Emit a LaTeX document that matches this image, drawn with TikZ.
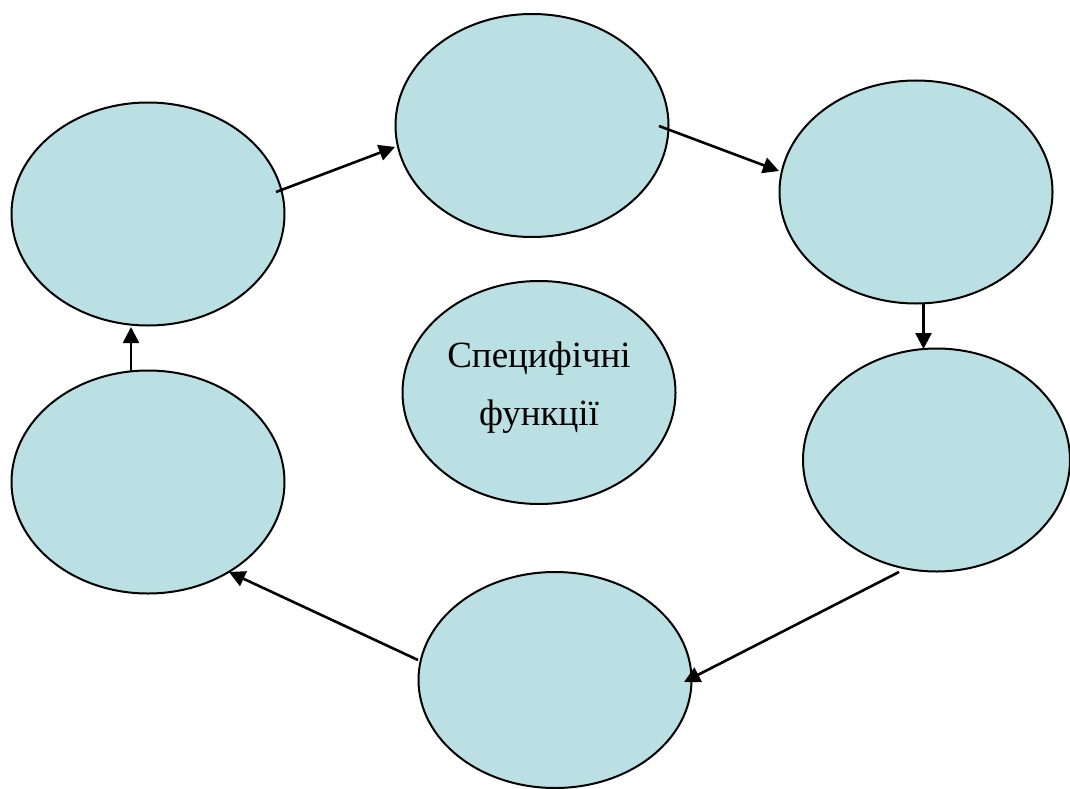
\documentclass[tikz,border=0pt]{standalone}
\usepackage{fontspec}
\setmainfont{Liberation Serif}
\usetikzlibrary{arrows.meta,shapes.geometric}
\definecolor{bubblefill}{HTML}{BBE0E3}
\tikzset{
  bubble/.style={ellipse, draw=black, line width=2pt, fill=bubblefill,
    minimum width=273pt, minimum height=223pt, inner sep=0pt},
  link/.style={line width=2.6pt, -{Triangle[length=16pt,width=16pt]}},
}
\begin{document}
\begin{tikzpicture}[x=1pt,y=-1pt]
\useasboundingbox (0,0) rectangle (1070,789);
\node[bubble] (e1) at (148,214) {};
\node[bubble] (e2) at (532,125.5) {};
\node[bubble] (e3) at (916,192) {};
\node[bubble, minimum width=267pt] (e4) at (936.5,460) {};
\node[bubble, minimum height=216pt] (e5) at (555,680) {};
\node[bubble] (e6) at (148,482) {};
\node[bubble] (e7) at (539,392.5) {};
\node[font=\fontsize{37pt}{58pt}\selectfont, align=center, inner sep=0pt] (t7) at (539,388) {Специфічні\\функції};
% arrow end points
\coordinate (a1s) at (276,192);
\coordinate (a1e) at (395,147);
\coordinate (a2s) at (659,126);
\coordinate (a2e) at (779,171);
\coordinate (a3s) at (923.5,303);
\coordinate (a3e) at (923.5,349);
\coordinate (a4s) at (899,572);
\coordinate (a4e) at (684,682);
\coordinate (a5s) at (418,660);
\coordinate (a5e) at (229,572);
\coordinate (a6s) at (131,372);
\coordinate (a6e) at (131,327);
\draw[link] (a1s) -- (a1e);
\draw[link] (a2s) -- (a2e);
\draw[link] (a3s) -- (a3e);
\draw[link] (a4s) -- (a4e);
\draw[link] (a5s) -- (a5e);
\draw[link] (a6s) -- (a6e);
\end{tikzpicture}
\end{document}
